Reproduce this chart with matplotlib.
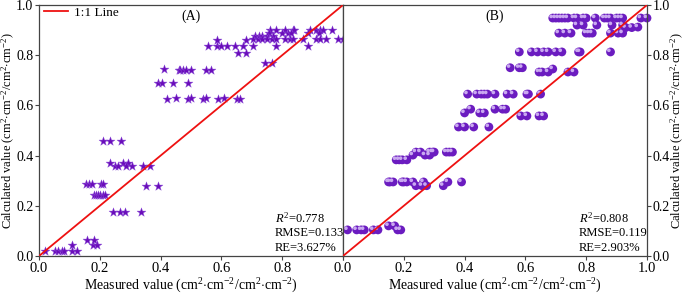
import matplotlib
matplotlib.use("Agg")
import matplotlib.pyplot as plt
import matplotlib.transforms as mtransforms

plt.rcParams['font.family'] = ['Liberation Serif', 'DejaVu Serif']
plt.rcParams['mathtext.fontset'] = 'custom'
plt.rcParams['mathtext.rm'] = 'Liberation Serif'
plt.rcParams['mathtext.it'] = 'Liberation Serif:italic'

star_color = '#6a0dba'
ball_color = '#6b1cc0'
ball_light = '#c9a8f0'
line_color = '#ee1111'

# panel A: measured vs calculated (stars)
a_x = [0.02, 0.053, 0.063, 0.076, 0.082, 0.11, 0.125,
       0.108, 0.178, 0.19, 0.158, 0.18,
       0.245, 0.267, 0.283, 0.335,
       0.18, 0.187, 0.194, 0.2, 0.21, 0.217,
       0.155, 0.165, 0.174, 0.204, 0.21, 0.352, 0.39,
       0.234, 0.277, 0.293, 0.25, 0.26, 0.286, 0.305, 0.342, 0.365,
       0.21, 0.234, 0.27,
       0.42, 0.45, 0.49, 0.5, 0.54, 0.55, 0.59, 0.61, 0.65, 0.66,
       0.39, 0.405, 0.44, 0.49,
       0.41, 0.46, 0.465, 0.475, 0.485, 0.5, 0.55, 0.565,
       0.745, 0.765,
       0.555, 0.585, 0.6, 0.62, 0.645, 0.67, 0.705, 0.78, 0.885,
       0.655, 0.68, 0.585, 0.68,
       0.76, 0.78, 0.81, 0.835, 0.84, 0.89, 0.91, 0.925, 0.935, 0.965,
       0.755, 0.8, 0.82, 0.83, 0.885, 0.92,
       0.71, 0.725, 0.735, 0.75, 0.77,
       0.705, 0.72, 0.735, 0.75, 0.765, 0.78, 0.81, 0.825, 0.835, 0.87,
       0.91, 0.925, 0.945, 0.985, 1.0]
a_y = [0.02, 0.02, 0.02, 0.02, 0.02, 0.02, 0.02,
       0.045, 0.045, 0.045, 0.063, 0.063,
       0.175, 0.175, 0.175, 0.175,
       0.243, 0.243, 0.243, 0.243, 0.243, 0.243,
       0.287, 0.287, 0.287, 0.287, 0.287, 0.28, 0.28,
       0.37, 0.37, 0.37, 0.36, 0.36, 0.36, 0.36, 0.36, 0.36,
       0.458, 0.458, 0.458,
       0.625, 0.628, 0.625, 0.628, 0.625, 0.628, 0.625, 0.628, 0.625, 0.625,
       0.69, 0.69, 0.69, 0.69,
       0.745, 0.742, 0.742, 0.742, 0.742, 0.742, 0.742, 0.742,
       0.77, 0.77,
       0.837, 0.837, 0.837, 0.837, 0.837, 0.837, 0.837, 0.837, 0.837,
       0.81, 0.81, 0.86, 0.86,
       0.9, 0.9, 0.9, 0.9, 0.9, 0.9, 0.9, 0.9, 0.9, 0.9,
       0.888, 0.888, 0.888, 0.888, 0.888, 0.888,
       0.875, 0.875, 0.875, 0.875, 0.875,
       0.865, 0.865, 0.865, 0.865, 0.865, 0.865, 0.865, 0.865, 0.865, 0.865,
       0.865, 0.865, 0.865, 0.865, 0.865]

# panel B: measured vs calculated (spheres)
b_x = [0.015, 0.045, 0.06, 0.07, 0.1, 0.115, 0.18, 0.19, 0.15, 0.17,
       0.24, 0.26, 0.275, 0.33,
       0.15, 0.155, 0.165, 0.195, 0.2, 0.21, 0.23, 0.265, 0.345, 0.39,
       0.175, 0.185, 0.195, 0.21,
       0.23, 0.27, 0.285,
       0.24, 0.255, 0.285, 0.295, 0.3, 0.34, 0.35, 0.36,
       0.38, 0.40, 0.43, 0.48,
       0.585, 0.605, 0.645, 0.66,
       0.4, 0.45, 0.465,
       0.42, 0.5, 0.525, 0.535,
       0.41, 0.44, 0.455, 0.465, 0.475, 0.5, 0.54, 0.56, 0.605, 0.61, 0.65,
       0.645, 0.655, 0.675, 0.74, 0.76, 0.69,
       0.55, 0.58, 0.59,
       0.58, 0.62, 0.64, 0.66, 0.675, 0.70, 0.72, 0.775, 0.78, 0.88,
       0.71, 0.73, 0.75, 0.80, 0.81, 0.82, 0.88, 0.905, 0.92,
       0.77, 0.79, 0.835, 0.885, 0.92, 0.93, 0.95, 0.97,
       0.69, 0.70, 0.71, 0.72, 0.73, 0.74, 0.76, 0.77, 0.79, 0.8,
       0.83, 0.86, 0.87, 0.88, 0.9, 0.91, 0.92, 0.98, 1.0]
b_y = [0.104, 0.104, 0.104, 0.104, 0.104, 0.104, 0.104, 0.104, 0.12, 0.12,
       0.28, 0.28, 0.28, 0.28,
       0.295, 0.295, 0.295, 0.295, 0.295, 0.295, 0.295, 0.295, 0.295, 0.295,
       0.383, 0.383, 0.383, 0.383,
       0.402, 0.402, 0.402,
       0.414, 0.414, 0.414, 0.414, 0.414, 0.414, 0.414, 0.414,
       0.514, 0.514, 0.514, 0.514,
       0.558, 0.558, 0.558, 0.558,
       0.57, 0.57, 0.57,
       0.585, 0.585, 0.585, 0.585,
       0.645, 0.645, 0.645, 0.645, 0.645, 0.645, 0.645, 0.645, 0.645, 0.645, 0.645,
       0.733, 0.733, 0.733, 0.733, 0.733, 0.745,
       0.75, 0.75, 0.75,
       0.813, 0.813, 0.813, 0.813, 0.813, 0.813, 0.813, 0.813, 0.813, 0.813,
       0.888, 0.888, 0.888, 0.888, 0.888, 0.888, 0.888, 0.888, 0.888,
       0.92, 0.92, 0.92, 0.92, 0.92, 0.91, 0.91, 0.912,
       0.948, 0.948, 0.948, 0.948, 0.948, 0.948, 0.948, 0.948, 0.948, 0.948,
       0.948, 0.948, 0.948, 0.948, 0.948, 0.948, 0.948, 0.948, 0.948]

one_to_one = [0.0, 1.0]
ticks = [0.0, 0.2, 0.4, 0.6, 0.8, 1.0]
tick_labels = ['0.0', '0.2', '0.4', '0.6', '0.8', '1.0']
stats_a = [r'$\mathit{R}^{2}$=0.778', 'RMSE=0.133', 'RE=3.627%']
stats_b = [r'$\mathit{R}^{2}$=0.808', 'RMSE=0.119', 'RE=2.903%']

unit = r'(cm$^{2}$$\cdot$cm$^{-2}$/cm$^{2}$$\cdot$cm$^{-2}$)'
xlabel = 'Measured value ' + unit
ylabel = 'Calculated value ' + unit

fig = plt.figure(figsize=(6.85, 2.95), dpi=100)
ax1 = fig.add_axes([39 / 685, 39 / 295, 304 / 685, 251 / 295])
ax2 = fig.add_axes([343 / 685, 39 / 295, 304 / 685, 251 / 295])

for ax in (ax1, ax2):
    ax.set_xlim(0, 1)
    ax.set_ylim(0, 1)
    ax.set_yticks(ticks)
    ax.set_yticklabels(tick_labels)
    ax.set_xticks(ticks)
    ax.tick_params(labelsize=10.5, length=3, width=0.8, color='#444444', pad=1.5)
    ax.tick_params(axis='y', labelsize=10, pad=1)
    for sp in ax.spines.values():
        sp.set_color('#444444')
        sp.set_linewidth(0.9)
    ax.set_xlabel(xlabel, fontsize=10, labelpad=1)

ax1.set_xticklabels(tick_labels[:-1] + [''])
ax2.set_xticklabels(tick_labels)
ax1.set_ylabel(ylabel, fontsize=9)
ax1.yaxis.set_label_coords(-0.073, 0.5)
ax2.yaxis.tick_right()
ax2.yaxis.set_label_position('right')
ax2.set_ylabel(ylabel, fontsize=9)
ax2.yaxis.set_label_coords(1.073, 0.5)

# panel A
ax1.plot(one_to_one, one_to_one, color=line_color, lw=1.3, label='1:1 Line', zorder=3)
ax1.scatter(a_x, a_y, marker='*', s=45, color=star_color, edgecolors='#8a4ad8',
            linewidths=0.3, zorder=2, clip_on=False)
ax1.text(0.5, 0.955, '(A)', transform=ax1.transAxes, ha='center', va='center', fontsize=10)
for i, s in enumerate(stats_a):
    ax1.text(0.775, 0.152 - i * 0.06, s, transform=ax1.transAxes,
             ha='left', va='center', fontsize=9)
ax1.legend(loc='upper left', bbox_to_anchor=(-0.005, 1.02), frameon=False,
           fontsize=9.5, handlelength=1.8, borderaxespad=0.1, handletextpad=0.5)

# panel B
ax2.plot(one_to_one, one_to_one, color=line_color, lw=1.3, zorder=3)
ax2.scatter(b_x, b_y, marker='o', s=40, color=ball_color, edgecolors='none',
            zorder=2, clip_on=False)
shift = mtransforms.ScaledTranslation(-1.2 / 72, 1.2 / 72, fig.dpi_scale_trans)
ax2.scatter(b_x, b_y, marker='o', s=7, color=ball_light, edgecolors='none',
            zorder=2, clip_on=False, transform=ax2.transData + shift)
ax2.text(0.5, 0.955, '(B)', transform=ax2.transAxes, ha='center', va='center', fontsize=10)
for i, s in enumerate(stats_b):
    ax2.text(0.775, 0.152 - i * 0.06, s, transform=ax2.transAxes,
             ha='left', va='center', fontsize=9)

fig.savefig('out.png', dpi=100)
